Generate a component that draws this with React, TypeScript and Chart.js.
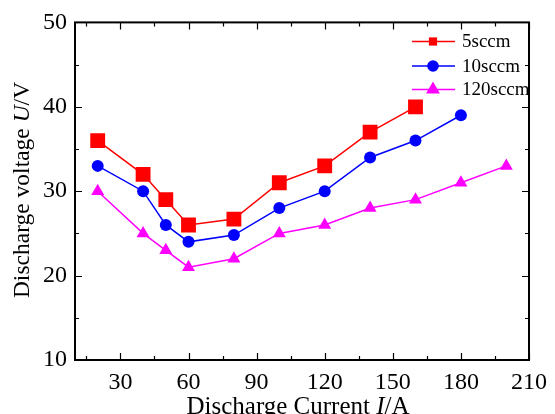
import React, { useEffect, useRef } from "react";
import { Chart, registerables } from "chart.js";

Chart.register(...registerables);

const current5 = [20, 40, 50, 60, 80, 100, 120, 140, 160];
const voltage5 = [36, 32, 29, 26, 26.7, 31, 33, 37, 40];
const current10 = [20, 40, 50, 60, 80, 100, 120, 140, 160, 180];
const voltage10 = [33, 30, 26, 24, 24.8, 28, 30, 34, 36, 39];
const current120 = [20, 40, 50, 60, 80, 100, 120, 140, 160, 180, 200];
const voltage120 = [30, 25, 23, 21, 22, 25, 26, 28, 29, 31, 33];
const seriesLabels = ["5sccm", "10sccm", "120sccm"];
const xTicks = [30, 60, 90, 120, 150, 180, 210];
const xMinorTicks = [15, 45, 75, 105, 135, 165, 195];
const yTicks = [10, 20, 30, 40, 50];
const yMinorTicks = [15, 25, 35, 45];

const FONT = "'Liberation Serif', 'Times New Roman', serif";

const pts = (xs: number[], ys: number[]) => xs.map((x, i) => ({ x, y: ys[i] }));

function drawMarker(ctx: CanvasRenderingContext2D, style: string, r: number, x: number, y: number, color: string) {
  ctx.save();
  ctx.fillStyle = color;
  ctx.beginPath();
  if (style === "rect") {
    const s = Math.SQRT1_2 * r;
    ctx.rect(x - s, y - s, 2 * s, 2 * s);
  } else if (style === "circle") {
    ctx.arc(x, y, r, 0, Math.PI * 2);
  } else if (style === "triangle") {
    let rad = 0;
    ctx.moveTo(x + Math.sin(rad) * r, y - Math.cos(rad) * r);
    rad += (2 * Math.PI) / 3;
    ctx.lineTo(x + Math.sin(rad) * r, y - Math.cos(rad) * r);
    rad += (2 * Math.PI) / 3;
    ctx.lineTo(x + Math.sin(rad) * r, y - Math.cos(rad) * r);
    ctx.closePath();
  }
  ctx.fill();
  ctx.restore();
}

const legendRadii = [5.8, 5.8, 8];

const framePlugin = {
  id: "frame",
  afterDraw(chart: any) {
    const { ctx, chartArea } = chart;
    const { left, right, top, bottom } = chartArea;
    const x = chart.scales.x;
    const y = chart.scales.y;
    ctx.save();
    ctx.strokeStyle = "#000";
    ctx.lineWidth = 1.2;
    const major = 7;
    const minor = 4;
    ctx.beginPath();
    const xt = (vals: number[], len: number) => {
      vals.forEach((v) => {
        const p = Math.round(x.getPixelForValue(v)) + 0.5;
        ctx.moveTo(p, bottom);
        ctx.lineTo(p, bottom - len);
        ctx.moveTo(p, top);
        ctx.lineTo(p, top + len);
      });
    };
    const yt = (vals: number[], len: number) => {
      vals.forEach((v) => {
        const p = Math.round(y.getPixelForValue(v)) + 0.5;
        ctx.moveTo(left, p);
        ctx.lineTo(left + len, p);
        ctx.moveTo(right, p);
        ctx.lineTo(right - len, p);
      });
    };
    xt(xTicks, major);
    xt(xMinorTicks, minor);
    yt(yTicks, major);
    yt(yMinorTicks, minor);
    ctx.stroke();
    ctx.lineWidth = 2;
    ctx.strokeRect(left, top, right - left, bottom - top);

    // legend
    const legendY = [41.5, 66, 89.5];
    chart.data.datasets.forEach((ds: any, i: number) => {
      const cy = legendY[i];
      ctx.strokeStyle = ds.borderColor;
      ctx.lineWidth = ds.borderWidth;
      ctx.beginPath();
      ctx.moveTo(412, cy);
      ctx.lineTo(455, cy);
      ctx.stroke();
      drawMarker(ctx, ds.pointStyle, legendRadii[i], 433, cy, ds.pointBackgroundColor);
      ctx.fillStyle = "#000";
      ctx.font = `19px ${FONT}`;
      ctx.textBaseline = "middle";
      ctx.textAlign = "left";
      ctx.fillText(ds.label, 462, cy + 1);
    });

    // axis titles
    const drawParts = (parts: [string, boolean][], size: number) => {
      let total = 0;
      const widths = parts.map(([t, it]) => {
        ctx.font = `${it ? "italic " : ""}${size}px ${FONT}`;
        const w = ctx.measureText(t).width;
        total += w;
        return w;
      });
      let cx = -total / 2;
      parts.forEach(([t, it], k) => {
        ctx.font = `${it ? "italic " : ""}${size}px ${FONT}`;
        ctx.fillText(t, cx, 0);
        cx += widths[k];
      });
    };
    ctx.fillStyle = "#000";
    ctx.textAlign = "left";
    ctx.textBaseline = "alphabetic";
    ctx.save();
    ctx.translate(298, 414);
    drawParts([["Discharge Current ", false], ["I", true], ["/A", false]], 25);
    ctx.restore();
    ctx.save();
    ctx.translate(29, 190);
    ctx.rotate(-Math.PI / 2);
    drawParts([["Discharge voltage ", false], ["U", true], ["/V", false]], 23.5);
    ctx.restore();
    ctx.restore();
  },
};

export default function App() {
  const ref = useRef<HTMLCanvasElement>(null);
  useEffect(() => {
    document.body.style.margin = "0";
    const colors = ["#ff0000", "#0000ff", "#ff00ff"];
    const styles = ["rect", "circle", "triangle"];
    const radii = [10.5, 6, 7.5];
    const data = [pts(current5, voltage5), pts(current10, voltage10), pts(current120, voltage120)];
    const chart = new Chart(ref.current as HTMLCanvasElement, {
      type: "line",
      data: {
        datasets: data.map((d, i) => ({
          label: seriesLabels[i],
          data: d,
          borderColor: colors[i],
          backgroundColor: colors[i],
          pointBackgroundColor: colors[i],
          pointBorderColor: colors[i],
          pointBorderWidth: 0,
          pointStyle: styles[i],
          pointRadius: radii[i],
          borderWidth: 1.5,
          tension: 0,
          fill: false,
        })),
      },
      options: {
        animation: false,
        responsive: false,
        maintainAspectRatio: false,
        layout: { padding: { top: 22, right: 19, left: 0, bottom: 0 } },
        plugins: { legend: { display: false }, tooltip: { enabled: false } },
        scales: {
          x: {
            type: "linear",
            min: 10,
            max: 210,
            afterBuildTicks: (s: any) => {
              s.ticks = xTicks.map((v) => ({ value: v }));
            },
            afterFit: (s: any) => {
              s.height = 54;
            },
            ticks: {
              color: "#000",
              font: { family: FONT, size: 24 },
              padding: 8,
              maxRotation: 0,
              autoSkip: false,
            },
            grid: { display: false, drawTicks: false },
            border: { display: false },
          },
          y: {
            type: "linear",
            min: 10,
            max: 50,
            afterBuildTicks: (s: any) => {
              s.ticks = yTicks.map((v) => ({ value: v }));
            },
            afterFit: (s: any) => {
              s.width = 75;
            },
            ticks: {
              color: "#000",
              font: { family: FONT, size: 24 },
              padding: 8,
              autoSkip: false,
            },
            grid: { display: false, drawTicks: false },
            border: { display: false },
          },
        },
      } as any,
      plugins: [framePlugin],
    });
    return () => chart.destroy();
  }, []);
  return (
    <div style={{ position: "absolute", left: 0, top: 0, width: 555, height: 414 }}>
      <canvas ref={ref} width={555} height={414} style={{ width: 555, height: 414, display: "block" }} />
    </div>
  );
}
